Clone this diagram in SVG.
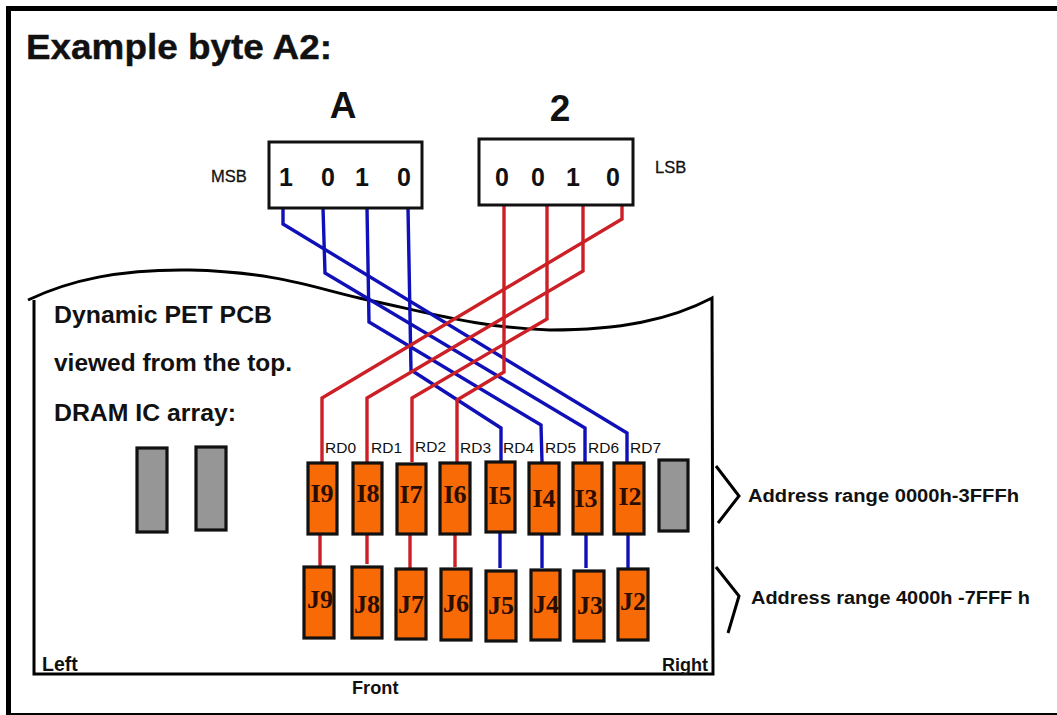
<svg xmlns="http://www.w3.org/2000/svg" width="1057" height="715" viewBox="0 0 1057 715">
<style>
text{font-family:"Liberation Sans",Arial,sans-serif;fill:#111}
.b{font-weight:bold}
.box{fill:#fff;stroke:#111;stroke-width:3}
.chip{fill:#f76a05;stroke:#111;stroke-width:3.2}
.gray{fill:#969696;stroke:#111;stroke-width:3.2}
.lab{font-family:"Liberation Serif",serif;font-weight:bold;font-size:26px;text-anchor:middle;fill:#2a0d00}
.bit{font-weight:bold;font-size:25px;text-anchor:middle}
.rd{font-size:15.5px}
.wr{fill:none;stroke-width:3.4;stroke-linejoin:miter}
.red{stroke:#cc2026}
.blue{stroke:#1010b8}
.line{fill:none;stroke:#000;stroke-width:3}
</style>
<rect width="1057" height="715" fill="#fff"/>
<path id="frame" d="M6 6H1057V11H11V713H1057V715H6Z" fill="#000"/>
<text class="b" x="26" y="59" font-size="34.5" textLength="306" lengthAdjust="spacingAndGlyphs" stroke="#111" stroke-width=".4">Example byte A2:</text>
<path id="pcb" class="line" d="M28 300C70 280 120 269 190 270C280 272 320 290 368 300C430 313 480 328 550 330C620 330 670 320 712 298L713 674H34V300"/>
<g id="connectors">
<path class="wr blue" d="M283 208V224L627 433V462"/>
<path class="wr blue" d="M323 208L325 273L585 428V462"/>
<path class="wr blue" d="M367 208L369 322L541 425L542 462"/>
<path class="wr blue" d="M408 208L411 370L501 428V461"/>
<path class="wr red" d="M622 205V219L322 398V462"/>
<path class="wr red" d="M583 205V271L367 398V462"/>
<path class="wr red" d="M547 205V319L412 398V462"/>
<path class="wr red" d="M504 205V372L457 400V462"/>
<path class="wr red" d="M320 534V567"/>
<path class="wr red" d="M367 534V564"/>
<path class="wr red" d="M410 534V569"/>
<path class="wr red" d="M455 534V567"/>
<path class="wr blue" d="M500 532V568"/>
<path class="wr blue" d="M542 534V568"/>
<path class="wr blue" d="M586 534V568"/>
<path class="wr blue" d="M628 534V568"/>
</g>
<g id="boxA"><rect class="box" x="269" y="142" width="153" height="66"/>
<text class="bit" x="286" y="186">1</text><text class="bit" x="328" y="186">0</text><text class="bit" x="362" y="186">1</text><text class="bit" x="404" y="186">0</text></g>
<g id="box2"><rect class="box" x="479" y="139" width="154" height="66"/>
<text class="bit" x="502" y="186">0</text><text class="bit" x="538" y="186">0</text><text class="bit" x="573" y="186">1</text><text class="bit" x="613" y="186">0</text></g>
<text class="b" x="343" y="118" font-size="37" text-anchor="middle">A</text>
<text class="b" x="560" y="121" font-size="37" text-anchor="middle">2</text>
<text x="211" y="182" font-size="16.5" stroke="#111" stroke-width=".3">MSB</text>
<text x="655" y="173" font-size="16.5" stroke="#111" stroke-width=".3">LSB</text>
<g class="b" font-size="23">
<text x="54" y="323" textLength="218" lengthAdjust="spacingAndGlyphs">Dynamic PET PCB</text>
<text x="54" y="371" textLength="238" lengthAdjust="spacingAndGlyphs">viewed from the top.</text>
<text x="54" y="421" textLength="182" lengthAdjust="spacingAndGlyphs">DRAM IC array:</text>
</g>
<g id="gray1"><rect class="gray" x="137" y="448" width="30" height="84"/></g>
<g id="gray2"><rect class="gray" x="196" y="447" width="30" height="83"/></g>
<g id="gray3"><rect class="gray" x="659" y="460" width="29" height="71"/></g>
<g class="rd">
<text x="325" y="453">RD0</text><text x="371" y="453">RD1</text><text x="415" y="452">RD2</text><text x="460" y="453">RD3</text><text x="503" y="453">RD4</text><text x="545" y="453">RD5</text><text x="588" y="453">RD6</text><text x="630" y="453">RD7</text>
</g>
<g id="I9"><rect class="chip" x="308" y="463" width="29" height="71"/><text class="lab" x="322" y="502">I9</text></g>
<g id="I8"><rect class="chip" x="353" y="463" width="29" height="71"/><text class="lab" x="368" y="502">I8</text></g>
<g id="I7"><rect class="chip" x="397" y="464" width="29" height="70"/><text class="lab" x="411" y="503">I7</text></g>
<g id="I6"><rect class="chip" x="440" y="463" width="30" height="71"/><text class="lab" x="455" y="503">I6</text></g>
<g id="I5"><rect class="chip" x="486" y="462" width="29" height="70"/><text class="lab" x="500" y="504">I5</text></g>
<g id="I4"><rect class="chip" x="529" y="463" width="30" height="71"/><text class="lab" x="544" y="507">I4</text></g>
<g id="I3"><rect class="chip" x="573" y="463" width="29" height="71"/><text class="lab" x="586" y="507">I3</text></g>
<g id="I2"><rect class="chip" x="614" y="463" width="30" height="71"/><text class="lab" x="630" y="505">I2</text></g>
<g id="J9"><rect class="chip" x="304" y="567" width="30" height="71"/><text class="lab" x="320" y="608">J9</text></g>
<g id="J8"><rect class="chip" x="352" y="567" width="30" height="71"/><text class="lab" x="367" y="613">J8</text></g>
<g id="J7"><rect class="chip" x="396" y="569" width="30" height="70"/><text class="lab" x="411" y="613">J7</text></g>
<g id="J6"><rect class="chip" x="441" y="569" width="30" height="71"/><text class="lab" x="456" y="612">J6</text></g>
<g id="J5"><rect class="chip" x="486" y="571" width="30" height="70"/><text class="lab" x="501" y="614">J5</text></g>
<g id="J4"><rect class="chip" x="531" y="570" width="29" height="70"/><text class="lab" x="546" y="613">J4</text></g>
<g id="J3"><rect class="chip" x="574" y="571" width="30" height="70"/><text class="lab" x="590" y="614">J3</text></g>
<g id="J2"><rect class="chip" x="618" y="569" width="30" height="71"/><text class="lab" x="633" y="610">J2</text></g>
<path class="line" d="M716 466L739 496L718 523"/>
<path class="line" d="M716 567L739 596L728 633"/>
<text class="b" x="748" y="502" font-size="18.8" textLength="271" lengthAdjust="spacingAndGlyphs">Address range 0000h-3FFFh</text>
<text class="b" x="751" y="604" font-size="18.8" textLength="279" lengthAdjust="spacingAndGlyphs">Address range 4000h -7FFF h</text>
<text class="b" x="42" y="671" font-size="19.5">Left</text>
<text class="b" x="662" y="671" font-size="18">Right</text>
<text class="b" x="352" y="694" font-size="18.2">Front</text>
</svg>
